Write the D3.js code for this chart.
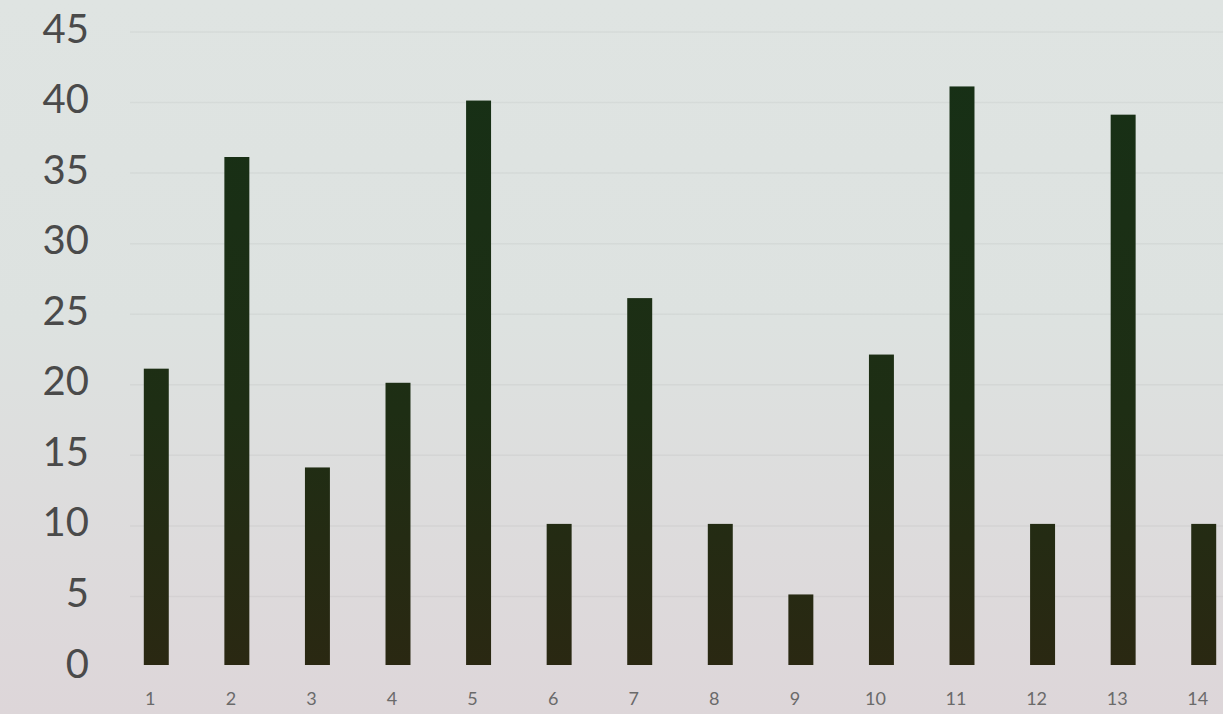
<!DOCTYPE html>
<html>
<head>
<meta charset="utf-8">
<script src="https://cdn.jsdelivr.net/npm/d3@7"></script>
<style>
html,body{margin:0;padding:0;overflow:hidden;background:#dfe2e1;}
svg{display:block;}
</style>
</head>
<body>
<svg id="chart" width="1223" height="714"></svg>
<script>
const categories = ["1","2","3","4","5","6","7","8","9","10","11","12","13","14"];
const values = [21, 36, 14, 20, 40, 10, 26, 10, 5, 22, 41, 10, 39, 10];
const yTicks = [0, 5, 10, 15, 20, 25, 30, 35, 40, 45];

const W = 1223, H = 714;
const svg = d3.select("#chart");
const defs = svg.append("defs");

const bg = defs.append("linearGradient").attr("id","bg").attr("x1",0).attr("y1",0).attr("x2",0).attr("y2",1);
bg.append("stop").attr("offset","0%").attr("stop-color","#dfe4e2");
bg.append("stop").attr("offset","45%").attr("stop-color","#dde2e0");
bg.append("stop").attr("offset","100%").attr("stop-color","#ddd6d9");
svg.append("rect").attr("width",W).attr("height",H).attr("fill","url(#bg)");

const y = d3.scaleLinear().domain([0,45]).range([665, 30]);
const x = d3.scaleBand().domain(categories).range([116, 1244]).paddingInner(0.69).paddingOuter(0.345);

const barGrad = defs.append("linearGradient").attr("id","barg")
  .attr("gradientUnits","userSpaceOnUse").attr("x1",0).attr("y1",y(45)).attr("x2",0).attr("y2",y(0));
barGrad.append("stop").attr("offset","0%").attr("stop-color","#163016");
barGrad.append("stop").attr("offset","60%").attr("stop-color","#1e2e14");
barGrad.append("stop").attr("offset","100%").attr("stop-color","#2a2812");

// gridlines
svg.append("g").selectAll("line").data(yTicks.filter(d => d > 0)).join("line")
  .attr("x1",130).attr("x2",W)
  .attr("y1",d => y(d)+2).attr("y2",d => y(d)+2)
  .attr("stroke","#000").attr("stroke-opacity",0.04).attr("stroke-width",1.5);

// y axis
const yAxis = d3.axisLeft(y).tickValues(yTicks).tickSize(0).tickPadding(0);
const gy = svg.append("g").attr("transform","translate(89,-2)").call(yAxis);
gy.select(".domain").remove();
gy.selectAll("text").attr("font-family","Lato, 'Open Sans', sans-serif")
  .attr("font-size",40).attr("fill","#4a4a4a").attr("dy","0.35em");

// bars
svg.append("g").selectAll("rect").data(values).join("rect")
  .attr("x",(d,i) => x(categories[i]))
  .attr("width",x.bandwidth())
  .attr("y",d => y(d))
  .attr("height",d => y(0) - y(d))
  .attr("fill","url(#barg)");

// x axis
const xAxis = d3.axisBottom(x).tickSize(0).tickPadding(0);
const gx = svg.append("g").attr("transform","translate(-6,699)").call(xAxis);
gx.select(".domain").remove();
gx.selectAll("text").attr("font-family","Lato, 'Open Sans', sans-serif")
  .attr("font-size",18).attr("fill","#6a6a6a").attr("dy","0.35em");
</script>
</body>
</html>
